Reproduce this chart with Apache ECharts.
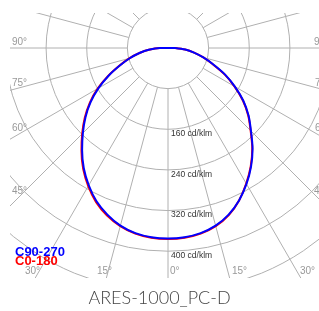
<!DOCTYPE html>
<html>
  <head>
    <meta charset="utf-8">
    <title>ARES-1000_PC-D</title>
    <style>
      html, body {
        margin: 0;
        padding: 0;
        width: 100%;
        height: 100%;
        background: #fff;
      }
      #container {
        width: 319px;
        height: 311px;
      }
    </style>
  </head>
  <body>
    <div id="container"></div>
    <script src="https://cdn.jsdelivr.net/npm/echarts@6/dist/echarts.min.js"></script>
    <script type="text/javascript">

      // gamma angles (deg from nadir) and intensities in cd/klm
      const angles = [0, 5, 10, 15, 20, 25, 30, 35, 40, 45, 50, 55, 60, 65, 70, 75, 80, 85, 90];
      const c270 = [375, 374, 370, 362, 349, 333, 312, 289, 263, 237, 212, 186, 158, 129, 101, 78, 57, 38, 16];
      const c90 = [375, 374, 370, 362, 349, 331, 309, 285, 259, 231, 207, 181, 152, 124, 95, 72, 52, 34, 14];
      const c180 = [376, 375, 371, 363, 351, 335, 314, 291, 265, 239, 214, 188, 160, 130, 102, 79, 57, 38, 16];
      const c0 = [376, 375, 371, 363, 350, 331, 308, 284, 258, 230, 206, 180, 151, 123, 94, 72, 52, 34, 14];

      const seriesNames = ['C0-180', 'C90-270'];
      const ringStep = 80;
      const ringMax = 560;
      const ringLabelMin = 160;
      const ringLabelMax = 400;
      const angleLabels = ['90°', '75°', '60°', '45°', '30°', '15°', '0°', '15°', '30°', '45°', '60°', '75°', '90°'];

      // layout (pixels)
      const cx = 168, cy = 48;
      const pxPerUnit = 0.508;
      const clipRect = { left: 10, top: 13, bottom: 278 };
      const angleLabelPos = [
        [12, 42, 'left'], [12, 83, 'left'], [12, 128, 'left'], [12, 191, 'left'],
        [40, 271, 'right'], [112, 271, 'right'], [170, 271, 'left'],
        [232, 271, 'left'], [300, 271, 'left'],
        [314, 191, 'left'], [315, 128, 'left'], [315, 83, 'left'], [314, 42, 'left']
      ];

      const buildCurve = (right, left) => {
        const pts = [];
        for (let i = angles.length - 1; i >= 0; i--) pts.push([right[i], 360 - angles[i]]);
        for (let i = 1; i < angles.length; i++) pts.push([left[i], angles[i]]);
        pts.push([0, 180]);
        pts.push(pts[0]);
        return pts;
      };

      const initChart = () => {
        const chart = echarts.init(document.getElementById('container'));
        const gridColor = '#b0b0b0';

        const masks = [
          { type: 'rect', z: 100, shape: { x: 0, y: 0, width: 319, height: clipRect.top }, style: { fill: '#fff' } },
          { type: 'rect', z: 100, shape: { x: 0, y: 0, width: clipRect.left, height: 311 }, style: { fill: '#fff' } },
          { type: 'rect', z: 100, shape: { x: 0, y: clipRect.bottom, width: 319, height: 311 - clipRect.bottom }, style: { fill: '#fff' } }
        ];
        const labelEls = angleLabels.map((t, i) => ({
          type: 'text',
          z: 110,
          x: angleLabelPos[i][0],
          y: angleLabelPos[i][1],
          style: {
            text: t,
            fill: '#999',
            fontSize: 10,
            fontFamily: 'Liberation Sans, Arial, sans-serif',
            align: angleLabelPos[i][2],
            verticalAlign: 'middle'
          }
        }));

        const option = {
          animation: false,
          title: {
            text: 'ARES-1000_PC-D',
            left: 'center',
            top: 284,
            z: 200,
            textStyle: {
              fontFamily: 'Lato, sans-serif',
              fontWeight: 300,
              fontSize: 18,
              color: '#444'
            }
          },
          legend: {
            data: [
              { name: seriesNames[1], textStyle: { color: '#0000ff' } },
              { name: seriesNames[0], textStyle: { color: '#ff0000' } }
            ],
            orient: 'vertical',
            left: 5,
            top: 241,
            itemGap: -4,
            itemWidth: 0,
            itemHeight: 0,
            icon: 'none',
            selectedMode: false,
            textStyle: {
              fontFamily: 'Liberation Sans, Arial, sans-serif',
              fontWeight: 'bold',
              fontSize: 13
            }
          },
          polar: [
            { center: [cx, cy], radius: [ringStep * pxPerUnit, ringMax * pxPerUnit] },
            { center: [cx, cy], radius: ringMax * pxPerUnit }
          ],
          angleAxis: [
            {
              polarIndex: 0,
              type: 'value',
              min: 0,
              max: 360,
              interval: 15,
              startAngle: 270,
              clockwise: true,
              axisLine: { show: false },
              axisTick: { show: false },
              axisLabel: { show: false },
              splitLine: { show: true, lineStyle: { color: gridColor, width: 1 } }
            },
            {
              polarIndex: 1,
              type: 'value',
              min: 0,
              max: 360,
              startAngle: 270,
              clockwise: true,
              show: false
            }
          ],
          radiusAxis: [
            {
              polarIndex: 0,
              type: 'value',
              min: ringStep,
              max: ringMax,
              interval: ringStep,
              axisLine: { show: false },
              axisTick: { show: false },
              splitLine: { show: true, lineStyle: { color: gridColor, width: 1 } },
              axisLabel: {
                show: true,
                margin: 3,
                align: 'left',
                verticalAlign: 'top',
                color: '#333',
                fontSize: 8.5,
                fontFamily: 'Liberation Sans, Arial, sans-serif',
                formatter: v => (v >= ringLabelMin && v <= ringLabelMax) ? v + ' cd/klm' : ''
              }
            },
            {
              polarIndex: 1,
              type: 'value',
              min: 0,
              max: ringMax,
              show: false
            }
          ],
          series: [
            {
              name: seriesNames[0],
              type: 'line',
              coordinateSystem: 'polar',
              polarIndex: 1,
              data: buildCurve(c0, c180),
              showSymbol: false,
              smooth: 0.3,
              clip: false,
              lineStyle: { color: '#ff0000', width: 2 },
              itemStyle: { color: '#ff0000' }
            },
            {
              name: seriesNames[1],
              type: 'line',
              coordinateSystem: 'polar',
              polarIndex: 1,
              data: buildCurve(c90, c270),
              showSymbol: false,
              smooth: 0.3,
              clip: false,
              lineStyle: { color: '#0000ff', width: 2 },
              itemStyle: { color: '#0000ff' }
            }
          ],
          graphic: masks.concat(labelEls)
        };
        chart.setOption(option);
      };

      document.addEventListener('DOMContentLoaded', initChart);
    </script>
  </body>
</html>
